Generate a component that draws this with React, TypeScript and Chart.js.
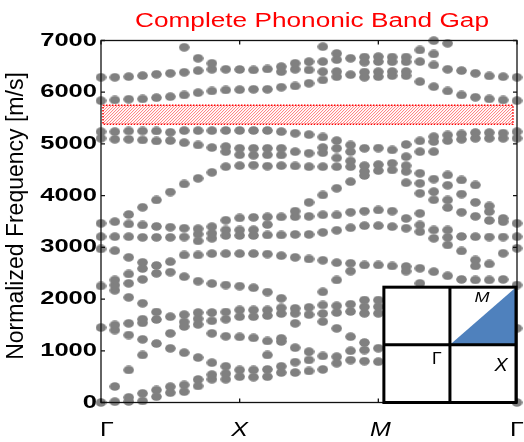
import React, { useEffect, useRef } from 'react';
import { Chart, registerables } from 'chart.js';

Chart.register(...registerables);

// ---- text ----
const chartTitle = 'Complete Phononic Band Gap';
const yAxisTitle = 'Normalized Frequency [m/s]';
const kTickLabels = ['Γ', 'X', 'M', 'Γ'];
const kTickIndex = [0, 10, 20, 30];
const yTickValues = [0, 1000, 2000, 3000, 4000, 5000, 6000, 7000];

// ---- complete band gap (m/s) ----
const gapLow = 5380;
const gapHigh = 5750;

// ---- inset Brillouin zone extent (in axis units) ----
const insetKFrom = 20.4;
const insetFreqTop = 2230;

// ---- normalized frequencies (m/s) at each wave-vector step k = 0..30 ----
const k00 = [0, 1450, 2253, 2970, 3207, 3465, 5109, 5237, 5837, 6289];
const k01 = [16, 310, 1400, 1500, 2170, 2270, 2370, 2936, 3207, 3497, 5090, 5237, 5850, 6289];
const k02 = [20, 100, 629, 1305, 1531, 2034, 2304, 2485, 2807, 3207, 3452, 3636, 5090, 5251, 5864, 6302];
const k03 = [30, 177, 919, 1221, 1540, 1610, 1918, 2382, 2590, 2710, 3194, 3433, 3775, 5077, 5251, 5870, 6321];
const k04 = [113, 242, 1140, 1605, 1750, 2498, 2650, 3194, 3405, 3916, 5057, 5251, 5895, 6347];
const k05 = [190, 306, 1047, 1337, 1660, 2520, 2724, 3194, 3390, 4070, 5064, 5225, 5914, 6366];
const k06 = [210, 340, 964, 1470, 1560, 1700, 2434, 2853, 3200, 3370, 4226, 5025, 5258, 5947, 6385, 6869];
const k07 = [320, 445, 870, 1510, 1620, 1740, 2345, 2853, 3125, 3255, 3360, 4335, 4980, 5258, 5992, 6418, 6656];
const k08 = [450, 540, 770, 1337, 1580, 1740, 2300, 2880, 3175, 3272, 3400, 4450, 4930, 5258, 6024, 6443, 6560];
const k09 = [450, 560, 700, 1280, 1610, 1750, 2272, 2880, 3230, 3336, 3525, 4561, 4851, 4950, 5260, 6044, 6443];
const k10 = [500, 630, 1270, 1660, 1790, 2250, 2880, 3230, 3336, 3570, 4580, 4790, 4916, 5260, 6050, 6440];
const k11 = [490, 630, 1250, 1660, 1790, 2220, 2880, 3230, 3340, 3580, 4590, 4780, 4916, 5260, 6057, 6431];
const k12 = [500, 640, 919, 1190, 1680, 1790, 2135, 2870, 3239, 3440, 3590, 4570, 4790, 4916, 5260, 6057, 6450];
const k13 = [580, 700, 1180, 1240, 1720, 1830, 2015, 2840, 3239, 3590, 4580, 4787, 4916, 5238, 6096, 6398, 6495];
const k14 = [580, 780, 1060, 1531, 1724, 1821, 2807, 3250, 3594, 3700, 4575, 4851, 5206, 6121, 6444, 6559];
const k15 = [610, 822, 983, 1700, 1840, 2775, 3250, 3600, 3870, 4561, 4820, 5180, 6173, 6431, 6592];
const k16 = [640, 900, 1565, 1720, 1886, 2140, 2750, 3290, 3630, 4013, 4561, 4830, 4930, 5135, 6237, 6398, 6592, 6881];
const k17 = [760, 886, 1434, 1740, 1870, 2369, 2704, 3330, 3626, 4142, 4561, 4730, 4916, 5064, 6300, 6400, 6630, 6750];
const k18 = [820, 1000, 1273, 1760, 1900, 2540, 2692, 3380, 3680, 4271, 4560, 4670, 4851, 4980, 6340, 6656];
const k19 = [800, 1015, 1160, 1724, 1850, 1982, 2659, 3420, 3700, 4390, 4470, 4580, 4916, 6290, 6390, 6580, 6680];
const k20 = [790, 1050, 1724, 1853, 1982, 2659, 3420, 3723, 4484, 4600, 4920, 6301, 6398, 6592, 6689];
const k21 = [2640, 3401, 3700, 4497, 4626, 4884, 6320, 6400, 6590, 6680];
const k22 = [2540, 2630, 3370, 3560, 4250, 4470, 4580, 4754, 4990, 6320, 6400, 6590, 6680];
const k23 = [2304, 2595, 3304, 3433, 3658, 4046, 4239, 4432, 4851, 5060, 6205, 6592, 6817];
const k24 = [2530, 3175, 3336, 3920, 4077, 4320, 4851, 5045, 5141, 6108, 6527, 6740, 6997];
const k25 = [2450, 3046, 3194, 3336, 3770, 3916, 4200, 4400, 5064, 5173, 6024, 6444, 6946];
const k26 = [2380, 2930, 3210, 3680, 4030, 4303, 5090, 5193, 5947, 6418];
const k27 = [2370, 2640, 2756, 3207, 3600, 3870, 4206, 5109, 5219, 5902, 6366];
const k28 = [2370, 2680, 3200, 3520, 3691, 3800, 5109, 5219, 5870, 6315];
const k29 = [2380, 2885, 3200, 3497, 3560, 5109, 5210, 5850, 6301];
const k30 = [0, 1435, 2272, 2982, 3207, 3465, 5109, 5237, 5837, 6289];

const columns = [
  k00, k01, k02, k03, k04, k05, k06, k07, k08, k09, k10,
  k11, k12, k13, k14, k15, k16, k17, k18, k19, k20,
  k21, k22, k23, k24, k25, k26, k27, k28, k29, k30,
];

const DOT = '#808080';
const RED = '#ff0000';
const BLUE = '#4f81bd';

function makeDot(): HTMLCanvasElement {
  const c = document.createElement('canvas');
  c.width = 11;
  c.height = 9;
  const g = c.getContext('2d')!;
  g.fillStyle = DOT;
  g.beginPath();
  g.ellipse(5.5, 4.5, 5.3, 4.3, 0, 0, Math.PI * 2);
  g.fill();
  return c;
}

function stretchText(
  ctx: CanvasRenderingContext2D,
  text: string,
  x: number,
  y: number,
  font: string,
  align: CanvasTextAlign,
  sx: number,
  color: string,
) {
  ctx.save();
  ctx.translate(x, y);
  ctx.scale(sx, 1);
  ctx.font = font;
  ctx.textAlign = align;
  ctx.textBaseline = 'middle';
  ctx.fillStyle = color;
  ctx.fillText(text, 0, 0);
  ctx.restore();
}

const decorPlugin = {
  id: 'decor',
  beforeDatasetsDraw(chart: any) {
    const { ctx, chartArea, scales } = chart;
    const y1 = scales.y.getPixelForValue(gapHigh);
    const y2 = scales.y.getPixelForValue(gapLow);
    const x1 = chartArea.left + 2;
    const x2 = chartArea.right - 4;
    ctx.save();
    ctx.beginPath();
    ctx.rect(x1, y1, x2 - x1, y2 - y1);
    ctx.clip();
    ctx.strokeStyle = 'rgba(255,0,0,0.55)';
    ctx.lineWidth = 1;
    const h = y2 - y1;
    for (let x = x1 - h; x < x2 + h; x += 3) {
      ctx.beginPath();
      ctx.moveTo(x, y2);
      ctx.lineTo(x + h, y1);
      ctx.stroke();
    }
    ctx.restore();
    ctx.save();
    ctx.strokeStyle = RED;
    ctx.lineWidth = 1.5;
    ctx.setLineDash([1.5, 1.5]);
    ctx.strokeRect(x1, y1, x2 - x1, y2 - y1);
    ctx.restore();
  },
  afterDatasetsDraw(chart: any) {
    const { ctx, chartArea, scales } = chart;
    const { left, right, top, bottom } = chartArea;
    const xs = scales.x;
    const ys = scales.y;

    // axes box
    ctx.save();
    ctx.strokeStyle = '#111';
    ctx.lineWidth = 1.3;
    ctx.strokeRect(left, top, right - left, bottom - top);
    ctx.beginPath();
    yTickValues.forEach((v) => {
      const py = ys.getPixelForValue(v);
      ctx.moveTo(left, py);
      ctx.lineTo(left + 4, py);
      ctx.moveTo(right, py);
      ctx.lineTo(right - 4, py);
    });
    kTickIndex.forEach((k) => {
      const px = xs.getPixelForValue(k);
      ctx.moveTo(px, bottom);
      ctx.lineTo(px, bottom - 4);
      ctx.moveTo(px, top);
      ctx.lineTo(px, top + 4);
    });
    ctx.stroke();
    ctx.restore();

    // inset Brillouin zone
    const ix1 = xs.getPixelForValue(insetKFrom);
    const ix2 = right - 1;
    const iy1 = ys.getPixelForValue(insetFreqTop);
    const iy2 = bottom;
    const cx = (ix1 + ix2) / 2;
    const cy = (iy1 + iy2) / 2;
    ctx.save();
    ctx.fillStyle = '#ffffff';
    ctx.fillRect(ix1, iy1, ix2 - ix1, iy2 - iy1);
    ctx.fillStyle = BLUE;
    ctx.beginPath();
    ctx.moveTo(cx, cy);
    ctx.lineTo(ix2, iy1);
    ctx.lineTo(ix2, cy);
    ctx.closePath();
    ctx.fill();
    ctx.strokeStyle = '#000';
    ctx.lineWidth = 3;
    ctx.strokeRect(ix1, iy1, ix2 - ix1, iy2 - iy1);
    ctx.beginPath();
    ctx.moveTo(cx, iy1);
    ctx.lineTo(cx, iy2);
    ctx.moveTo(ix1, cy);
    ctx.lineTo(ix2, cy);
    ctx.stroke();
    ctx.restore();
    stretchText(ctx, 'M', ix2 - 34, iy1 + 11, 'italic 15px "Liberation Sans"', 'center', 1.2, '#000');
    stretchText(ctx, 'Γ', cx - 13, cy + 15, '16px "Liberation Sans"', 'center', 1.1, '#000');
    stretchText(ctx, 'X', ix2 - 15, cy + 21, 'italic 18px "Liberation Sans"', 'center', 1.1, '#000');

    // y tick labels
    yTickValues.forEach((v) => {
      stretchText(ctx, String(v), left - 4, ys.getPixelForValue(v), 'bold 18.5px "Liberation Sans"', 'right', 1.38, '#000');
    });
    // k tick labels
    kTickLabels.forEach((lab, i) => {
      const px = xs.getPixelForValue(kTickIndex[i]);
      const italic = lab === 'X' || lab === 'M';
      const dx = i === 0 ? 6 : i === 2 ? 2 : 0;
      stretchText(ctx, lab, px + dx, bottom + 28, (italic ? 'italic ' : '') + '20px "Liberation Sans"', 'center', 1.25, '#000');
    });
    // title
    stretchText(ctx, chartTitle, (left + right) / 2 + 3, 21, '20px "Liberation Sans"', 'center', 1.31, RED);
    // y axis title
    ctx.save();
    ctx.translate(17, 216);
    ctx.rotate(-Math.PI / 2);
    ctx.font = '23px "Liberation Sans"';
    ctx.textAlign = 'center';
    ctx.textBaseline = 'middle';
    ctx.fillStyle = '#000';
    ctx.fillText(yAxisTitle, 0, 0);
    ctx.restore();
  },
};

export default function App() {
  const ref = useRef<HTMLCanvasElement | null>(null);
  useEffect(() => {
    if (!ref.current) return;
    const points = columns.flatMap((col, k) => col.map((f) => ({ x: k, y: f })));
    const dot = makeDot();
    const chart = new Chart(ref.current, {
      type: 'scatter',
      data: {
        datasets: [
          {
            label: 'bands',
            data: points,
            pointStyle: dot as any,
            pointRadius: 5,
            backgroundColor: DOT,
            borderWidth: 0,
            clip: false as any,
          },
        ],
      },
      options: {
        animation: false,
        responsive: false,
        maintainAspectRatio: false,
        layout: { padding: { left: 101, right: 7, top: 40.5, bottom: 39.5 } },
        scales: {
          x: { type: 'linear', min: 0, max: 30, display: false },
          y: { type: 'linear', min: 0, max: 7000, display: false },
        },
        plugins: { legend: { display: false }, tooltip: { enabled: false } },
      },
      plugins: [decorPlugin],
    });
    return () => chart.destroy();
  }, []);
  return (
    <div style={{ position: 'fixed', left: 0, top: 0, width: 524, height: 442, background: '#fff' }}>
      <canvas ref={ref} width={524} height={442} style={{ display: 'block' }} />
    </div>
  );
}
